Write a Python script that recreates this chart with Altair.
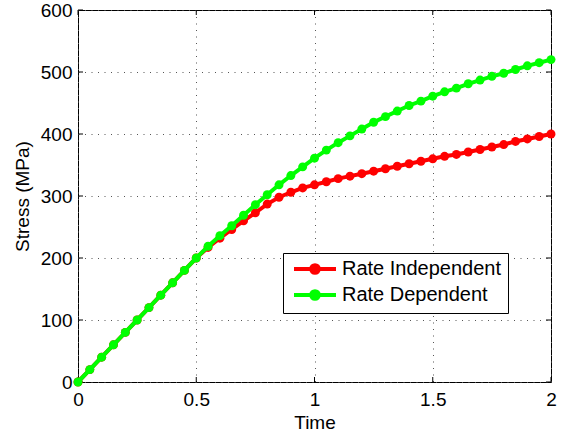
import altair as alt
import pandas as pd

# Sample times (s) and stress responses (MPa)
time = [0.00, 0.05, 0.10, 0.15, 0.20, 0.25, 0.30, 0.35, 0.40, 0.45, 0.50,
        0.55, 0.60, 0.65, 0.70, 0.75, 0.80, 0.85, 0.90, 0.95, 1.00,
        1.05, 1.10, 1.15, 1.20, 1.25, 1.30, 1.35, 1.40, 1.45, 1.50,
        1.55, 1.60, 1.65, 1.70, 1.75, 1.80, 1.85, 1.90, 1.95, 2.00]

rate_independent = [0, 20, 40, 60, 80, 100, 120, 140, 160, 180, 200,
                    217, 232, 246, 260, 273, 287, 298, 306, 313, 318,
                    323, 328, 332, 336, 340, 344, 348, 352, 356, 360,
                    364, 367, 371, 375, 379, 383, 388, 392, 396, 400]

rate_dependent = [0, 20, 40, 60, 80, 100, 120, 140, 160, 180, 200,
                  219, 236, 252, 269, 286, 302, 318, 333, 347, 361,
                  374, 386, 397, 408, 419, 428, 437, 446, 453, 461,
                  468, 474, 481, 487, 493, 498, 504, 510, 515, 520]

series_names = ["Rate Independent", "Rate Dependent"]
series_colors = ["#ff0000", "#00ff00"]
x_ticks = [0, 0.5, 1, 1.5, 2]
y_ticks = [0, 100, 200, 300, 400, 500, 600]

df = pd.DataFrame({
    "time": time + time,
    "stress": rate_independent + rate_dependent,
    "series": [series_names[0]] * len(time) + [series_names[1]] * len(time),
})

W, H = 473, 372
FONT = "Liberation Sans"
TICK_LEN = 5

x_enc = alt.X("time:Q", scale=alt.Scale(domain=[0, 2], nice=False, zero=False),
              axis=alt.Axis(values=x_ticks, format="~g", title="Time",
                            labelPadding=8, titlePadding=4, labelFlush=False))
y_enc = alt.Y("stress:Q", scale=alt.Scale(domain=[0, 600], nice=False),
              axis=alt.Axis(values=y_ticks, title="Stress (MPa)",
                            labelPadding=6, titlePadding=8, labelFlush=False))

color_scale = alt.Scale(domain=series_names, range=series_colors)

# line with a dot in the middle for the legend key
LEGEND_SYMBOL = ("M-3,0L3,0"
                 "M0.55,0A0.55,0.55,0,1,1,-0.55,0A0.55,0.55,0,1,1,0.55,0Z")

legend = alt.Legend(
    orient="none", legendX=205, legendY=243, title=None, direction="vertical",
    symbolType=LEGEND_SYMBOL, symbolSize=196, symbolStrokeWidth=4,
    symbolOpacity=1, labelFont=FONT, labelFontSize=20, labelColor="black",
    strokeColor="black", fillColor="white", padding=6, rowPadding=2,
    symbolOffset=16, labelOffset=17,
)


def series_layers(name):
    sub = alt.Chart(df).transform_filter(alt.datum.series == name)
    line = sub.mark_line(strokeWidth=4).encode(
        x=x_enc, y=y_enc,
        stroke=alt.Stroke("series:N", scale=color_scale, legend=legend),
    )
    pts = sub.mark_circle(size=80, opacity=1).encode(
        x=x_enc, y=y_enc,
        fill=alt.Fill("series:N", scale=color_scale, legend=legend),
    )
    return [line, pts]


# inward tick marks on all four sides of the frame
xt = alt.Chart(pd.DataFrame({"time": x_ticks}))
yt = alt.Chart(pd.DataFrame({"stress": y_ticks}))
tick_layers = [
    xt.mark_rule(color="black", strokeWidth=1).encode(
        x=x_enc, y=alt.value(H), y2=alt.value(H - TICK_LEN)),
    xt.mark_rule(color="black", strokeWidth=1).encode(
        x=x_enc, y=alt.value(0), y2=alt.value(TICK_LEN)),
    yt.mark_rule(color="black", strokeWidth=1).encode(
        y=y_enc, x=alt.value(0), x2=alt.value(TICK_LEN)),
    yt.mark_rule(color="black", strokeWidth=1).encode(
        y=y_enc, x=alt.value(W), x2=alt.value(W - TICK_LEN)),
]

chart = alt.layer(
    *tick_layers,
    *series_layers(series_names[0]),
    *series_layers(series_names[1]),
).properties(
    width=W, height=H,
    autosize=alt.AutoSizeParams(type="none"),
    padding={"left": 78, "top": 10, "right": 15, "bottom": 50},
    background="white",
).configure_view(
    stroke="black", strokeWidth=1,
).configure_axis(
    grid=True, gridColor="#555555", gridDash=[1, 5.5], gridWidth=1,
    ticks=False, domain=False,
    labelFont=FONT, labelFontSize=19, labelColor="black",
    titleFont=FONT, titleFontSize=19, titleFontWeight="normal",
    titleColor="black",
)

chart.save("out.html", embed_options={"renderer": "svg", "actions": False})
